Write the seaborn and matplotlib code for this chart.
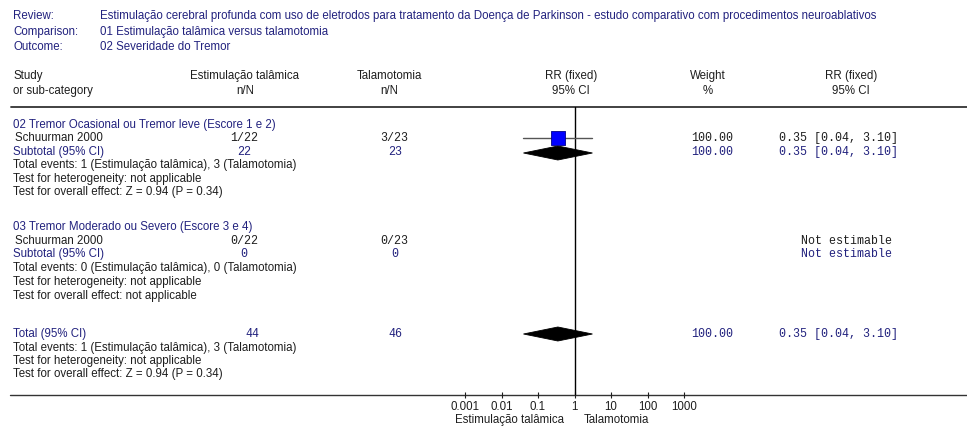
import numpy as np
import matplotlib
matplotlib.use("Agg")
import matplotlib.pyplot as plt
import seaborn as sns
from matplotlib.patches import Polygon

# ---- review information ----
review_text = ("Estimulação cerebral profunda com uso de eletrodos para tratamento da "
               "Doença de Parkinson - estudo comparativo com procedimentos neuroablativos")
comparison_text = "01 Estimulação talâmica versus talamotomia"
outcome_text = "02 Severidade do Tremor"
group_a = "Estimulação talâmica"
group_b = "Talamotomia"

# ---- subgroups ----
subgroup_titles = ["02 Tremor Ocasional ou Tremor leve (Escore 1 e 2)",
                   "03 Tremor Moderado ou Severo (Escore 3 e 4)"]
study_names = ["Schuurman 2000", "Schuurman 2000"]
events_a = [1, 0]
total_a = [22, 22]
events_b = [3, 0]
total_b = [23, 23]
subtotal_a = [22, 0]
subtotal_b = [23, 0]
study_rr = [0.35, np.nan]
study_lo = [0.04, np.nan]
study_hi = [3.10, np.nan]
study_weight = [100.00, np.nan]
sub_events_a = [1, 0]
sub_events_b = [3, 0]
heterogeneity = ["not applicable", "not applicable"]
overall_effect = ["Z = 0.94 (P = 0.34)", "not applicable"]

# ---- overall total ----
total_n_a = 44
total_n_b = 46
total_events_a = 1
total_events_b = 3
total_rr = 0.35
total_lo = 0.04
total_hi = 3.10
total_weight = 100.00
total_het = "not applicable"
total_overall = "Z = 0.94 (P = 0.34)"

axis_ticks = [0.001, 0.01, 0.1, 1, 10, 100, 1000]
axis_labels = ["0.001", "0.01", "0.1", "1", "10", "100", "1000"]

# ---- style ----
sns.set_theme(style="white")
plt.rcParams["font.family"] = ["Liberation Sans", "DejaVu Sans"]

NAVY = "#22227e"
INK = "#1e1e1e"
SANS = 8.3
MONO = 8.4
mono_font = ["Liberation Mono", "DejaVu Sans Mono"]

W, H = 967, 429
fig = plt.figure(figsize=(W / 100, H / 100), dpi=100)
fig.patch.set_facecolor("white")

# page layer in pixel coordinates
page = fig.add_axes([0, 0, 1, 1])
page.set_xlim(0, W)
page.set_ylim(H, 0)
page.axis("off")

# forest panel: log RR scale between the two rules
x0, x1 = 465, 684
y_top, y_bot = 107, 395
fax = fig.add_axes([x0 / W, (H - y_bot) / H, (x1 - x0) / W, (y_bot - y_top) / H])
fax.set_xscale("log")
fax.set_xlim(axis_ticks[0], axis_ticks[-1])
fax.set_ylim(y_bot, y_top)
fax.patch.set_alpha(0)
for s in fax.spines.values():
    s.set_visible(False)
fax.set_xticks(axis_ticks)
fax.set_xticklabels(axis_labels)
fax.xaxis.set_minor_locator(matplotlib.ticker.NullLocator())
fax.set_yticks([])
fax.tick_params(axis="x", bottom=True, direction="inout", length=5, width=0.8,
                color=INK, labelsize=SANS, labelcolor=INK, pad=2)
fax.grid(False)


def sans(x, y, s, color=INK, ha="left"):
    page.text(x, y, s, fontsize=SANS, color=color, ha=ha, va="center")


def mono(x, y, s, color=INK, ha="left"):
    page.text(x, y, s, fontsize=MONO, color=color, ha=ha, va="center",
              family=mono_font)


def diamond(rr, lo, hi, y, half=7):
    fax.add_patch(Polygon([(lo, y), (rr, y - half), (hi, y), (rr, y + half)],
                          closed=True, facecolor="black", edgecolor="black",
                          lw=0.6, zorder=3))


# ---- header block ----
for y, lab, val in [(16, "Review:", review_text),
                    (32, "Comparison:", comparison_text),
                    (47, "Outcome:", outcome_text)]:
    sans(13, y, lab, NAVY)
    sans(100, y, val, NAVY)

sans(13, 76, "Study")
sans(13, 91, "or sub-category")
for cx, top, bot in [(245, group_a, "n/N"), (389, group_b, "n/N"),
                     (571, "RR (fixed)", "95% CI"), (708, "Weight", "%"),
                     (851, "RR (fixed)", "95% CI")]:
    sans(cx, 76, top, ha="center")
    sans(cx, 91, bot, ha="center")

page.plot([11, W], [y_top, y_top], color="#333333", lw=1.3)
page.plot([10, W], [y_bot, y_bot], color="#333333", lw=1.0)
fax.axvline(1, color="black", lw=1.0, zorder=2)

# ---- subgroups ----
blocks = [(125, 138, 152, 165, 179, 192), (227, 241, 254, 268, 282, 296)]
for i, (yt, ys, ysub, yev, yhet, yov) in enumerate(blocks):
    sans(13, yt, subgroup_titles[i], NAVY)
    sans(15, ys, study_names[i])
    mono(244, ys, f"{events_a[i]}/{total_a[i]}", ha="center")
    mono(394, ys, f"{events_b[i]}/{total_b[i]}", ha="center")
    sans(13, ysub, "Subtotal (95% CI)", NAVY)
    mono(244, ysub, f"{subtotal_a[i]}", NAVY, ha="center")
    mono(395, ysub, f"{subtotal_b[i]}", NAVY, ha="center")
    sans(13, yev, f"Total events: {sub_events_a[i]} ({group_a}), "
                  f"{sub_events_b[i]} ({group_b})")
    sans(13, yhet, f"Test for heterogeneity: {heterogeneity[i]}")
    sans(13, yov, f"Test for overall effect: {overall_effect[i]}")

    if np.isfinite(study_rr[i]):
        fax.plot([study_lo[i], study_hi[i]], [ys, ys], color="#555555", lw=1.0,
                 zorder=3)
        sns.scatterplot(x=[study_rr[i]], y=[ys], marker="s", s=95,
                        color="#0000ff", edgecolor="#00008b", linewidth=0.6,
                        ax=fax, legend=False, zorder=4)
        diamond(study_rr[i], study_lo[i], study_hi[i], ysub + 1)
        mono(733, ys, f"{study_weight[i]:.2f}", ha="right")
        mono(779, ys, f"{study_rr[i]:.2f} [{study_lo[i]:.2f}, {study_hi[i]:.2f}]")
        mono(733, ysub, f"{study_weight[i]:.2f}", NAVY, ha="right")
        mono(779, ysub, f"{study_rr[i]:.2f} [{study_lo[i]:.2f}, {study_hi[i]:.2f}]",
             NAVY)
    else:
        mono(801, ys, "Not estimable")
        mono(801, ysub, "Not estimable", NAVY)

# ---- overall total ----
sans(13, 334, "Total (95% CI)", NAVY)
mono(252, 334, f"{total_n_a}", NAVY, ha="center")
mono(395, 334, f"{total_n_b}", NAVY, ha="center")
diamond(total_rr, total_lo, total_hi, 334)
mono(733, 334, f"{total_weight:.2f}", NAVY, ha="right")
mono(779, 334, f"{total_rr:.2f} [{total_lo:.2f}, {total_hi:.2f}]", NAVY)
sans(13, 348, f"Total events: {total_events_a} ({group_a}), "
              f"{total_events_b} ({group_b})")
sans(13, 361, f"Test for heterogeneity: {total_het}")
sans(13, 374, f"Test for overall effect: {total_overall}")

# favours labels under the axis
sans(564, 420, group_a, ha="right")
sans(584, 420, group_b, ha="left")

fig.savefig("out.png", dpi=100, facecolor="white")
